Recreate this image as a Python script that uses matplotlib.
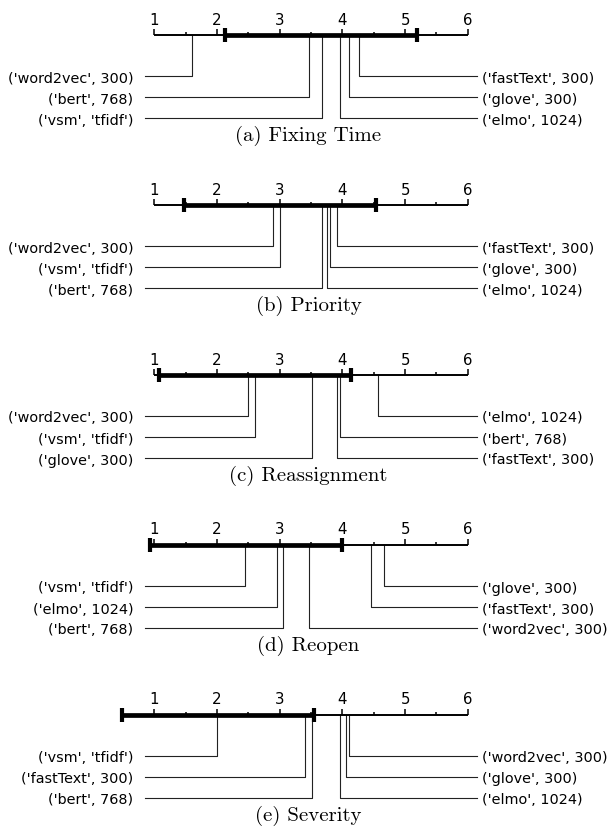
"""Critical difference diagrams for the five prediction tasks."""

import numpy as np
import matplotlib

matplotlib.use("Agg")
import matplotlib.pyplot as plt  # noqa: E402

# --- data ---------------------------------------------------------------
models = ["('vsm', 'tfidf')", "('word2vec', 300)", "('glove', 300)",
          "('fastText', 300)", "('elmo', 1024)", "('bert', 768)"]

captions = ["(a) Fixing Time", "(b) Priority", "(c) Reassignment",
            "(d) Reopen", "(e) Severity"]

ranks_fixing = [3.67, 1.60, 4.11, 4.26, 3.96, 3.46]
ranks_priority = [3.00, 2.90, 3.81, 3.91, 3.76, 3.67]
ranks_reassign = [2.61, 2.50, 3.51, 3.91, 4.56, 3.96]
ranks_reopen = [2.45, 3.46, 4.66, 4.46, 2.96, 3.06]
ranks_severity = [2.00, 4.11, 4.06, 3.41, 3.96, 3.51]

cd_start = [2.13, 1.47, 1.08, 0.93, 0.48]
cd_width = 3.06

all_ranks = [ranks_fixing, ranks_priority, ranks_reassign, ranks_reopen, ranks_severity]

# --- layout (x in rank units, y in pixels from the top) -----------------
PX0, PX_PER_RANK = 154.3, 62.7
W, H = 615, 829
LEFT_END, RIGHT_END = 0.85, 6.15
PANEL_TOP, PANEL_STEP = 36, 170
ROW_OFFS = [41, 62, 83]
LINE_COL = "#222222"

fig = plt.figure(figsize=(W / 100, H / 100), dpi=100)
ax = fig.add_axes([0, 0, 1, 1])
ax.set_xlim(1 - PX0 / PX_PER_RANK, 1 + (W - PX0) / PX_PER_RANK)
ax.set_ylim(H, 0)
ax.axis("off")

for i, (ranks, cap, lo) in enumerate(zip(all_ranks, captions, cd_start)):
    y0 = PANEL_TOP + PANEL_STEP * i

    # axis with ticks
    ax.hlines(y0, min(1, lo), 6, color="black", lw=1.4, zorder=2)
    major = np.arange(1, 7)
    minor = np.arange(1.5, 6, 1.0)
    ax.vlines(major, y0 - 6, y0, color="black", lw=1.1)
    ax.vlines(minor, y0 - 3, y0, color="black", lw=1.1)
    for m in major:
        ax.text(m, y0 - 11.5, str(m), ha="center", va="baseline", fontsize=10.8)

    # critical difference bar
    hi = lo + cd_width
    ax.hlines(y0, lo, hi, color="black", lw=3.4, zorder=3)
    ax.vlines([lo, hi], y0 - 7, y0 + 7, color="black", lw=3.0, zorder=3)

    # connectors and labels
    order = np.argsort(ranks)
    left, right = order[:3], order[3:][::-1]
    for k, idx in enumerate(left):
        r, yy = ranks[idx], y0 + ROW_OFFS[k]
        ax.plot([r, r, LEFT_END], [y0, yy, yy], color=LINE_COL, lw=0.8, zorder=1)
        ax.text(LEFT_END - 0.18, yy, models[idx], ha="right", va="center_baseline",
                fontsize=10.4)
    for k, idx in enumerate(right):
        r, yy = ranks[idx], y0 + ROW_OFFS[k]
        ax.plot([r, r, RIGHT_END], [y0, yy, yy], color=LINE_COL, lw=0.8, zorder=1)
        ax.text(RIGHT_END + 0.07, yy, models[idx], ha="left", va="center_baseline",
                fontsize=10.4)

    ax.text(3.46, y0 + 105, cap, ha="center", va="baseline", fontsize=15,
            family="cmr10")

fig.savefig("out.png", dpi=100)
